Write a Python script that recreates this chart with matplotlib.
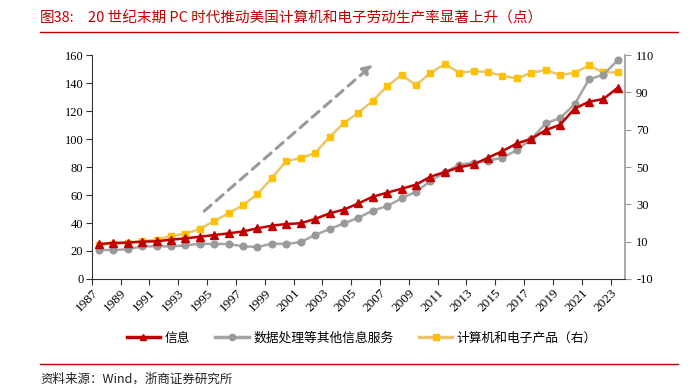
import matplotlib
matplotlib.use("Agg")
import matplotlib.pyplot as plt
from matplotlib.lines import Line2D

plt.rcParams['font.family'] = ['Noto Sans CJK SC', 'DejaVu Sans']
plt.rcParams['axes.unicode_minus'] = False

years = list(range(1987, 2024))
info = [25.0, 25.7, 26.0, 26.7, 26.9, 28.1, 29.0, 30.2, 31.4, 32.6, 34.0, 36.2, 38.1, 39.3,
        39.8, 42.9, 46.9, 49.6, 54.0, 58.8, 61.7, 64.5, 67.4, 73.1, 76.4, 79.8, 81.9, 86.7,
        91.4, 96.9, 100.2, 106.4, 110.2, 121.7, 126.7, 128.6, 136.7]
data_proc = [20.7, 20.7, 21.2, 23.3, 23.3, 23.3, 24.0, 25.2, 25.0, 25.0, 23.3, 22.9, 25.2, 25.0,
             26.4, 31.4, 35.7, 39.7, 43.8, 48.8, 52.1, 57.6, 62.4, 70.0, 76.2, 81.7, 83.1, 84.5,
             86.7, 92.1, 100.2, 111.2, 115.0, 124.8, 142.6, 146.0, 156.4]
computer = [8.4, 8.9, 9.3, 10.2, 11.1, 13.0, 14.3, 16.8, 21.1, 25.2, 29.6, 35.5, 44.1, 53.2,
            54.8, 57.5, 66.1, 73.6, 79.1, 85.4, 93.4, 99.3, 93.9, 100.4, 105.2, 100.5, 101.4,
            100.9, 98.9, 97.5, 100.5, 102.0, 99.3, 100.5, 104.5, 100.7, 100.7]
tick_labels = [str(y) for y in range(1987, 2024, 2)]
series_names = ['信息', '数据处理等其他信息服务', '计算机和电子产品（右）']
title_num = '图38:'
title = '20 世纪末期 PC 时代推动美国计算机和电子劳动生产率显著上升（点）'
source = '资料来源：Wind，浙商证券研究所'

RED = '#C00000'
GRAY_L = '#A5A5A5'
GRAY_M = '#999999'
YEL_L = '#E8C670'
YEL_M = '#FFC000'

fig = plt.figure(figsize=(6.97, 3.88), dpi=100)
ax = fig.add_axes([0.1316, 0.281, 0.7651, 0.577])
ax2 = ax.twinx()

x = list(range(len(years)))
ax2.plot(x, computer, color=YEL_L, lw=1.8, marker='s', ms=4.8, mfc=YEL_M, mec=YEL_M, zorder=2)
ax.plot(x, data_proc, color=GRAY_L, lw=1.8, marker='o', ms=4.8, mfc=GRAY_M, mec=GRAY_M, zorder=3)
ax.plot(x, info, color=RED, lw=1.8, marker='^', ms=5.5, mfc=RED, mec=RED, zorder=4)
ax.set_zorder(ax2.get_zorder() + 1)
ax.patch.set_visible(False)

ax.set_xlim(-0.5, len(years) - 0.5)
ax.set_ylim(0, 160)
ax.set_yticks(range(0, 161, 20))
ax2.set_ylim(-10, 110)
ax2.set_yticks(range(-10, 111, 20))

tick_pos = [i - 0.5 for i in range(0, len(years), 2)]
ax.set_xticks(tick_pos)
ax.set_xticklabels(tick_labels, rotation=45, ha='right', rotation_mode='anchor',
                   family='Liberation Serif', fontsize=9.5)
for lab in ax.get_yticklabels():
    lab.set_family('Liberation Serif')
    lab.set_fontsize(9)
for lab in ax2.get_yticklabels():
    lab.set_family('Liberation Serif')
    lab.set_fontsize(9)

for a in (ax, ax2):
    a.spines['top'].set_visible(False)
ax.spines['right'].set_visible(False)
ax.spines['left'].set_color('#333333')
ax.spines['bottom'].set_color('#333333')
ax2.spines['left'].set_visible(False)
ax2.spines['bottom'].set_visible(False)
ax2.spines['right'].set_color('#999999')
ax2.spines['right'].set_linewidth(1.2)
ax.tick_params(axis='y', length=4, color='#333333', pad=2)
ax.tick_params(axis='x', length=4, color='#333333', pad=2)
ax2.tick_params(axis='y', length=4, color='#999999', pad=4)

# dashed trend arrow
ax.annotate('', xy=(0.531, 0.966), xytext=(0.207, 0.295), xycoords='axes fraction',
            textcoords='axes fraction',
            arrowprops=dict(arrowstyle='-|>', color='#999999', lw=2.2, ls=(0, (3, 2.2)),
                            mutation_scale=14))

# title + lines
fig.text(40 / 697, 1 - 18 / 388, title_num, color=RED, fontsize=10.5, va='center', ha='left')
fig.text(88 / 697, 1 - 18 / 388, title, color=RED, fontsize=10.5, va='center', ha='left')
fig.add_artist(Line2D([40 / 697, 678 / 697], [1 - 32 / 388, 1 - 32 / 388], color=RED, lw=1.0))
fig.add_artist(Line2D([40 / 697, 678 / 697], [1 - 364 / 388, 1 - 364 / 388], color=RED, lw=1.0))
fig.text(40 / 697, 1 - 379 / 388, source, fontsize=9, va='center', ha='left', color='#222222')

handles = [
    Line2D([], [], color=RED, lw=2.5, marker='^', ms=4.5, mfc=RED, mec=RED),
    Line2D([], [], color=GRAY_L, lw=2.5, marker='o', ms=4.5, mfc=GRAY_M, mec=GRAY_M),
    Line2D([], [], color=YEL_L, lw=2.5, marker='s', ms=4.5, mfc=YEL_M, mec=YEL_M),
]
fig.legend(handles, series_names, loc='center', bbox_to_anchor=(0.519, 1 - 338 / 388), ncol=3,
           frameon=False, fontsize=9.2, handlelength=2.6, columnspacing=2.0, handletextpad=0.35,
           borderpad=0.2)

fig.savefig('out.png', dpi=100)
